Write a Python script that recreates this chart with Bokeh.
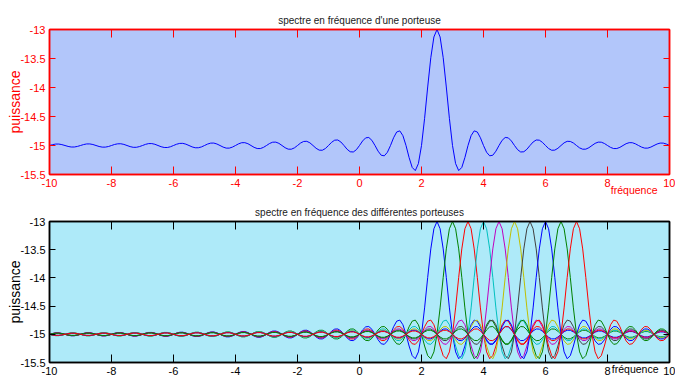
from bokeh.plotting import figure
from bokeh.models import Range1d, FixedTicker, LinearAxis, CustomJSTickFormatter, Title
from bokeh.layouts import column
from bokeh.embed import file_html
from bokeh.resources import INLINE

# ---------------- data ----------------
# height of one carrier's spectrum above the -15 floor, sampled every 0.1 of
# frequency away from the carrier centre (0.0, 0.1, 0.2, ... 17.0)
offset_step = 0.1
profile = [
    2.000, 1.871, 1.514, 1.009, 0.468, 0.000, -0.312, -0.433, -0.378, -0.208,
    0.000, 0.170, 0.252, 0.233, 0.134, 0.000, -0.117, -0.178, -0.168, -0.098,
    0.000, 0.089, 0.138, 0.132, 0.078, 0.000, -0.072, -0.112, -0.108, -0.065,
    0.000, 0.060, 0.095, 0.092, 0.055, 0.000, -0.052, -0.082, -0.080, -0.048,
    0.000, 0.046, 0.072, 0.070, 0.043, 0.000, -0.041, -0.064, -0.063, -0.038,
    0.000, 0.037, 0.058, 0.057, 0.035, 0.000, -0.033, -0.053, -0.052, -0.032,
    0.000, 0.031, 0.049, 0.048, 0.029, 0.000, -0.028, -0.045, -0.045, -0.027,
    0.000, 0.026, 0.042, 0.041, 0.025, 0.000, -0.025, -0.039, -0.039, -0.024,
    0.000, 0.023, 0.037, 0.036, 0.022, 0.000, -0.022, -0.035, -0.034, -0.021,
    0.000, 0.021, 0.033, 0.033, 0.020, 0.000, -0.019, -0.031, -0.031, -0.019,
    0.000, 0.019, 0.030, 0.029, 0.018, 0.000, -0.018, -0.028, -0.028, -0.017,
    0.000, 0.017, 0.027, 0.027, 0.016, 0.000, -0.016, -0.026, -0.026, -0.016,
    0.000, 0.015, 0.025, 0.025, 0.015, 0.000, -0.015, -0.024, -0.024, -0.015,
    0.000, 0.014, 0.023, 0.023, 0.014, 0.000, -0.014, -0.022, -0.022, -0.013,
    0.000, 0.013, 0.021, 0.021, 0.013, 0.000, -0.013, -0.021, -0.020, -0.013,
    0.000, 0.012, 0.020, 0.020, 0.012, 0.000, -0.012, -0.019, -0.019, -0.012,
    0.000, 0.012, 0.019, 0.019, 0.011, 0.000, -0.011, -0.018, -0.018, -0.011,
    0.000,
]
floor_level = -15.0

top_centres = [2.5]
top_colors = ["#0000ff"]

bottom_centres = [2.5, 3.0, 3.5, 4.0, 4.5, 5.0, 5.5, 6.0, 6.5, 7.0]
bottom_colors = ["#0000ff", "#008000", "#ff0000", "#00bfbf", "#bf00bf",
                 "#bfbf00", "#404040", "#0000ff", "#008000", "#ff0000"]

x_ticks = [-10, -8, -6, -4, -2, 0, 2, 4, 6, 8, 10]
y_ticks = [-15.5, -15, -14.5, -14, -13.5, -13]

top_title = "spectre en fréquence d'une porteuse"
bottom_title = "spectre en fréquence des différentes porteuses"
x_label = "fréquence"
y_label = "puissance"

X_MIN, X_MAX = -10, 10
Y_MIN, Y_MAX = -15.5, -13

FONT = "Liberation Sans"


def carrier(centre):
    n = len(profile) - 1
    xs, ys = [], []
    for k in range(-n, n + 1):
        x = round(centre + k * offset_step, 6)
        if X_MIN <= x <= X_MAX:
            xs.append(x)
            ys.append(floor_level + profile[abs(k)])
    return xs, ys


def make_fig(title, bg, col, frame_h, b_top, b_bottom, centres, colors,
             xl_valign, xl_standoff, xl_offset):
    p = figure(frame_width=620, frame_height=frame_h,
               x_range=Range1d(X_MIN, X_MAX), y_range=Range1d(Y_MIN, Y_MAX),
               output_backend="svg", toolbar_location=None,
               min_border_left=49, min_border_right=6,
               min_border_top=b_top, min_border_bottom=b_bottom)
    p.background_fill_color = bg
    p.border_fill_color = "white"
    p.outline_line_color = col
    p.outline_line_width = 1.5
    p.grid.visible = False

    p.title.text = title
    p.title.align = "center"
    p.title.text_font = FONT
    p.title.text_font_size = "10px"
    p.title.text_font_style = "normal"
    p.title.text_color = "#1a1a1a"
    p.title.standoff = 8

    fmt = CustomJSTickFormatter(code="return tick.toString();")
    for ax, ticks, tin in ((p.xaxis[0], x_ticks, 8), (p.yaxis[0], y_ticks, 6)):
        ax.ticker = FixedTicker(ticks=ticks)
        ax.formatter = fmt
        ax.axis_line_color = col
        ax.axis_line_width = 1.5
        ax.major_tick_line_color = col
        ax.major_tick_in = tin
        ax.major_tick_out = 0
        ax.minor_tick_line_color = None
        ax.major_label_text_color = col
        ax.major_label_text_font = FONT
        ax.major_label_text_font_size = "11px"
        ax.major_label_standoff = 4

    p.yaxis[0].axis_label = y_label
    p.yaxis[0].axis_label_text_color = col
    p.yaxis[0].axis_label_text_font = FONT
    p.yaxis[0].axis_label_text_font_size = "14px"
    p.yaxis[0].axis_label_text_font_style = "normal"
    p.yaxis[0].axis_label_standoff = -6

    for loc, ticks, tin in (("above", x_ticks, 8), ("right", y_ticks, 6)):
        ax = LinearAxis(ticker=FixedTicker(ticks=ticks))
        ax.axis_line_color = col
        ax.axis_line_width = 1.5
        ax.major_tick_line_color = col
        ax.major_tick_in = tin
        ax.major_tick_out = 0
        ax.minor_tick_line_color = None
        ax.major_label_text_font_size = "0px"
        ax.major_label_text_color = None
        ax.major_label_standoff = 0
        p.add_layout(ax, loc)

    for c, colr in zip(centres, colors):
        xs, ys = carrier(c)
        p.line(xs, ys, line_color=colr, line_width=1.0)

    # x-axis name written at the right end, next to the tick labels
    p.add_layout(Title(text=x_label, align="right", vertical_align=xl_valign,
                       standoff=xl_standoff, offset=xl_offset, text_color=col,
                       text_font=FONT, text_font_size="10.5px",
                       text_font_style="normal"), "below")
    return p


p1 = make_fig(top_title, "#b2c6fa", "#ff0000", 145, 29, 24,
              top_centres, top_colors, "middle", -15, 12)
p2 = make_fig(bottom_title, "#aeeaf9", "#000000", 141, 23, 20,
              bottom_centres, bottom_colors, "top", -30, 11)

layout = column(p1, p2, spacing=0)
open("out.html", "w").write(file_html(layout, INLINE))
